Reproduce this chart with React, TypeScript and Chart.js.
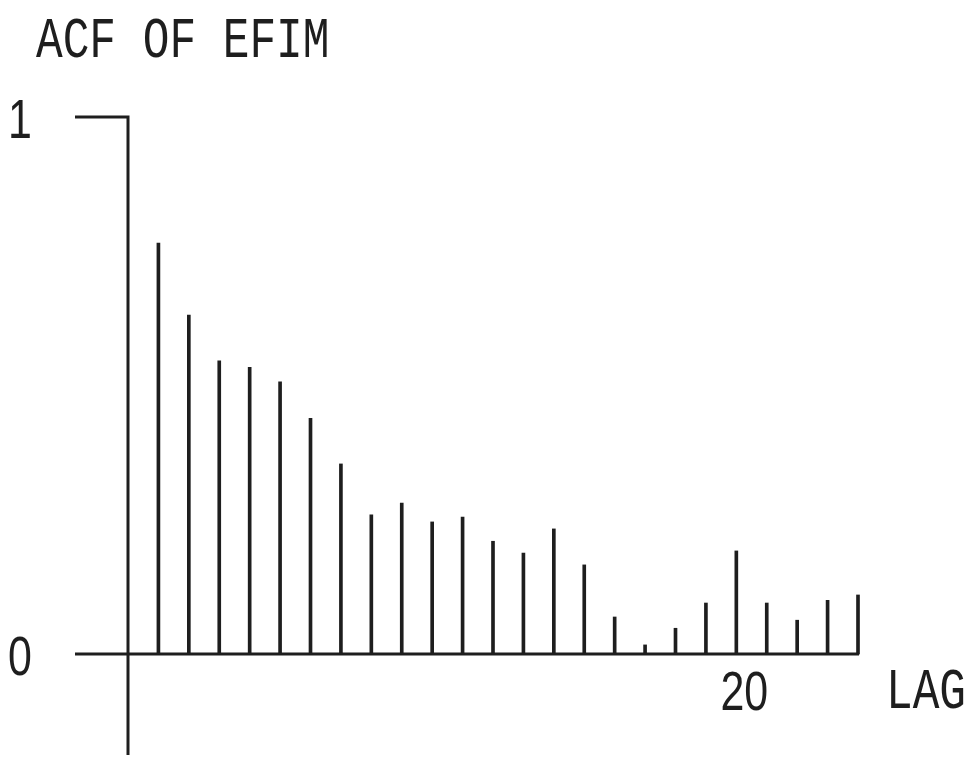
import { useEffect, useRef } from "react";
import { Chart, registerables } from "chart.js";

Chart.register(...registerables);

const chartTitle = "ACF OF EFIM";
const lags = [1, 2, 3, 4, 5, 6, 7, 8, 9, 10, 11, 12, 13, 14, 15, 16, 17, 18, 19, 20, 21, 22, 23, 24];
const acfValues = [
  0.765, 0.631, 0.546, 0.534, 0.507, 0.439, 0.354, 0.259, 0.281, 0.246, 0.255, 0.21,
  0.188, 0.233, 0.166, 0.069, 0.017, 0.048, 0.095, 0.192, 0.095, 0.063, 0.1, 0.11,
];
const yTickValues = [0, 1];
const yTickLabels = ["0", "1"];
const xTickValues = [20];
const xTickLabels = ["20"];
const xAxisLabel = "LAG";

const INK = "#1e1e1e";
const FONT = "57px 'Liberation Mono', 'DejaVu Sans Mono', monospace";
const DIGIT_FONT = "55px 'Liberation Sans', Arial, sans-serif";
const SX = 0.78;
const CAP = 39;

function drawText(
  ctx: CanvasRenderingContext2D,
  text: string,
  x: number,
  y: number,
  align: CanvasTextAlign,
  font: string = FONT
) {
  ctx.save();
  ctx.translate(x, y);
  ctx.scale(SX, 1);
  ctx.font = font;
  ctx.fillStyle = INK;
  ctx.textAlign = align;
  ctx.textBaseline = "alphabetic";
  ctx.fillText(text, 0, 0);
  ctx.restore();
}

const acfPlugin = {
  id: "acfAxes",
  beforeDatasetsDraw(chart: any) {
    const ctx: CanvasRenderingContext2D = chart.ctx;
    const xs = chart.scales.x;
    const ys = chart.scales.y;
    const x0 = xs.getPixelForValue(0);
    const xEnd = xs.getPixelForValue(24);
    const xLeft = x0 - 53;
    const y0 = ys.getPixelForValue(0);
    const y1 = ys.getPixelForValue(1);
    const yBottom = chart.chartArea.bottom;
    ctx.save();
    ctx.strokeStyle = INK;
    ctx.lineWidth = 3;
    ctx.lineCap = "butt";
    ctx.beginPath();
    ctx.moveTo(x0, y1 - 1.5);
    ctx.lineTo(x0, yBottom);
    ctx.moveTo(xLeft, y1);
    ctx.lineTo(x0 + 1.5, y1);
    ctx.moveTo(xLeft, y0);
    ctx.lineTo(xEnd + 1, y0);
    ctx.stroke();
    ctx.restore();
  },
  afterDraw(chart: any) {
    const ctx: CanvasRenderingContext2D = chart.ctx;
    const xs = chart.scales.x;
    const ys = chart.scales.y;
    drawText(ctx, chartTitle, 36, 57, "left");
    yTickValues.forEach((v, i) => {
      drawText(ctx, yTickLabels[i], 8, ys.getPixelForValue(v) + CAP / 2 + 1, "left", DIGIT_FONT);
    });
    xTickValues.forEach((v, i) => {
      drawText(ctx, xTickLabels[i], xs.getPixelForValue(v) + 8, 710, "center", DIGIT_FONT);
    });
    drawText(ctx, xAxisLabel, 886, 708, "left");
  },
};

export default function App() {
  const ref = useRef<HTMLCanvasElement | null>(null);
  useEffect(() => {
    if (!ref.current) return;
    const chart = new Chart(ref.current, {
      type: "bar",
      data: {
        datasets: [
          {
            data: lags.map((l, i) => ({ x: l, y: acfValues[i] })),
            backgroundColor: INK,
            borderWidth: 0,
            barThickness: 3,
            clip: false,
          } as any,
        ],
      },
      options: {
        animation: false,
        responsive: false,
        maintainAspectRatio: false,
        layout: { padding: { left: 128, right: 114, top: 117, bottom: 5 } },
        plugins: { legend: { display: false }, tooltip: { enabled: false }, title: { display: false } },
        scales: {
          x: { type: "linear", min: 0, max: 24, offset: false, display: false },
          y: { type: "linear", min: -0.188, max: 1, display: false },
        },
      },
      plugins: [acfPlugin],
    });
    return () => chart.destroy();
  }, []);
  return (
    <div style={{ position: "fixed", left: 0, top: 0, width: 972, height: 760, background: "#fff" }}>
      <canvas ref={ref} width={972} height={760} />
    </div>
  );
}
